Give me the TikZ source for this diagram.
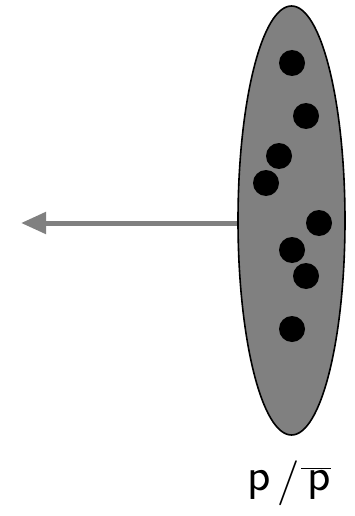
\documentclass[tikz,border=0pt]{standalone}
\usepackage{fontspec}
\usepackage{graphicx}
\definecolor{fillgray}{HTML}{808080}
\newcommand{\widep}{\scalebox{1.05}[1]{p}}
\tikzset{
  particle/.style={circle, fill=black, minimum size=26pt, inner sep=0pt},
  bag/.style={ellipse, draw=black, line width=1.6pt, fill=fillgray, minimum width=107pt, minimum height=429pt, inner sep=0pt},
  lbl/.style={font=\sffamily\fontsize{46}{50}\selectfont, inner sep=0pt, anchor=base}
}
\usetikzlibrary{shapes.geometric, arrows.meta}
\begin{document}
\begin{tikzpicture}[x=1pt, y=-1pt]
\useasboundingbox (0,0) rectangle (355,516);
\node[bag] (E) at (291.5,220.5) {};
\node[particle] (d1) at (292,63) {};
\node[particle] (d2) at (306,116) {};
\node[particle] (d3) at (279,156) {};
\node[particle] (d4) at (266,183) {};
\node[particle] (d5) at (319,223) {};
\node[particle] (d6) at (292,250) {};
\node[particle] (d7) at (306,276) {};
\node[particle] (d8) at (292,329) {};
\coordinate (tip) at (21,223);
\draw[fillgray, line width=5pt, -{Triangle[length=25pt, width=21pt]}] (E.west |- 0,223) -- (tip);
\node[lbl] (L) at (289,490) {\widep\hspace{7.5pt}\raisebox{-4.5pt}{\scalebox{1.07}[1]{\normalfont\fontsize{45}{45}\selectfont /}}\hspace{1pt}$\overline{\hbox{\kern6.6pt\widep}}$};
\end{tikzpicture}
\end{document}
